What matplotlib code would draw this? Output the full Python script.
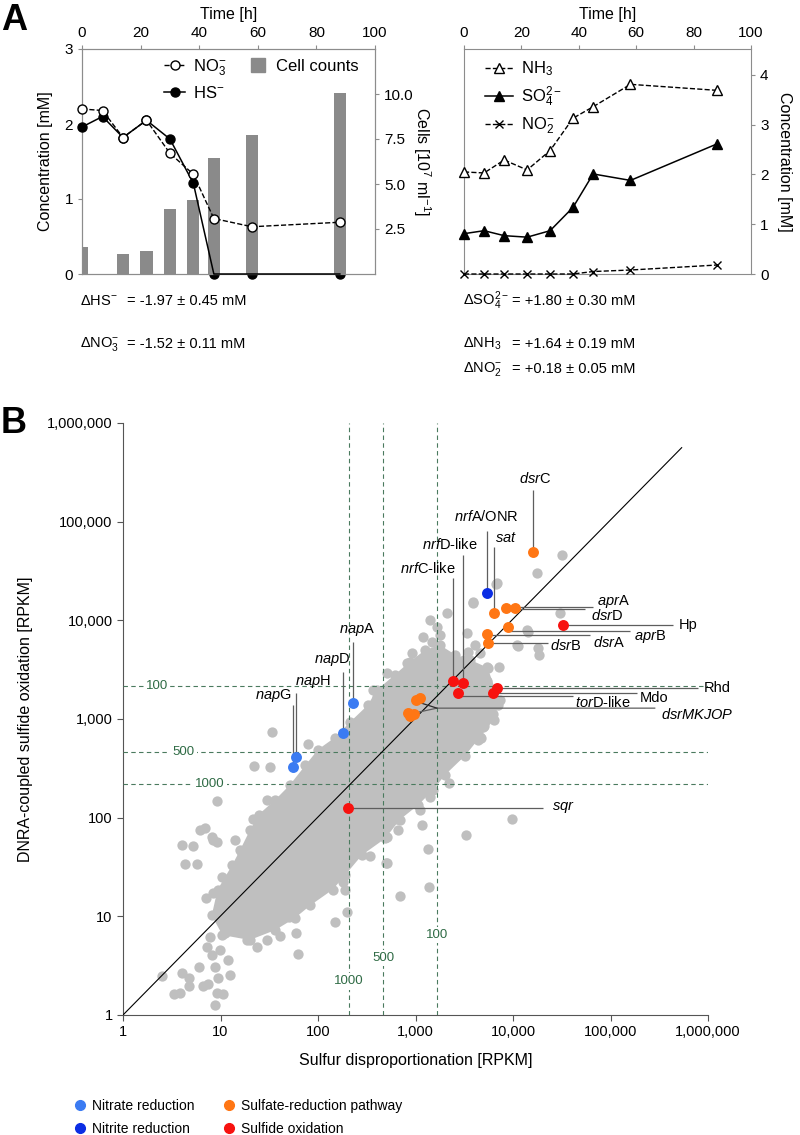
import numpy as np
import matplotlib
matplotlib.use('Agg')
import matplotlib.pyplot as plt
from matplotlib.lines import Line2D

plt.rcParams['font.family'] = ['Liberation Sans', 'DejaVu Sans']
plt.rcParams['mathtext.fontset'] = 'custom'
plt.rcParams['mathtext.rm'] = 'Liberation Sans'
plt.rcParams['mathtext.it'] = 'Liberation Sans:italic'
plt.rcParams['mathtext.bf'] = 'Liberation Sans:bold'
plt.rcParams['axes.unicode_minus'] = False

# ---- panel A data ----
time_h = [0, 7, 14, 22, 30, 38, 45, 58, 88]
no3 = [2.20, 2.18, 1.82, 2.05, 1.61, 1.33, 0.74, 0.63, 0.69]
hs = [1.96, 2.10, 1.82, 2.05, 1.80, 1.21, 0, 0, 0]
cell_time = [0, 14, 22, 30, 38, 45, 58, 88]
cells = [1.49, 1.12, 1.28, 3.63, 4.13, 6.42, 7.73, 10.04]

nh3 = [2.05, 2.03, 2.29, 2.09, 2.48, 3.13, 3.36, 3.81, 3.69]
so4 = [0.81, 0.87, 0.77, 0.74, 0.87, 1.34, 2.01, 1.88, 2.61]
no2 = [0, 0, 0, 0, 0, 0, 0.05, 0.08, 0.18]

delta_left = [(r'ΔHS$^{-}$', '= -1.97 ± 0.45 mM'),
              (r'ΔNO$_3^{-}$', '= -1.52 ± 0.11 mM')]
delta_right = [(r'ΔSO$_4^{2-}$', '= +1.80 ± 0.30 mM'),
               (r'ΔNH$_3$', '= +1.64 ± 0.19 mM'),
               (r'ΔNO$_2^{-}$', '= +0.18 ± 0.05 mM')]

# ---- panel B data (log10 RPKM: sulfur disproportionation, DNRA) ----
core_outline = [(1.02, 0.81), (0.91, 1.01), (0.97, 1.27), (1.12, 1.52), (1.20, 1.67),
                (1.30, 1.87), (1.39, 2.03), (1.56, 2.18), (1.71, 2.33), (1.87, 2.53),
                (2.00, 2.69), (2.17, 2.81), (2.33, 2.97), (2.51, 3.14), (2.60, 3.29),
                (2.79, 3.45), (2.94, 3.58), (3.10, 3.70), (3.25, 3.75), (3.41, 3.65),
                (3.56, 3.60), (3.74, 3.52), (3.82, 3.29), (3.85, 3.14), (3.80, 2.99),
                (3.64, 2.79), (3.51, 2.63), (3.30, 2.43), (3.18, 2.28), (3.03, 2.13),
                (2.84, 1.98), (2.69, 1.79), (2.45, 1.62), (2.28, 1.42), (2.15, 1.27),
                (1.92, 1.11), (1.76, 0.98), (1.56, 0.86), (1.30, 0.76)]

grey_points = [(0.40, 0.40), (0.52, 0.21), (0.58, 0.22), (0.61, 0.43), (0.68, 0.38),
               (0.68, 0.29), (0.78, 0.49), (0.82, 0.29), (0.87, 0.31), (0.94, 0.10),
               (0.97, 0.38), (0.96, 0.22), (1.03, 0.21), (1.10, 0.41), (1.08, 0.56),
               (0.94, 0.49), (0.91, 0.61), (0.86, 0.69), (0.89, 0.79), (0.99, 0.66),
               (1.05, 0.83), (0.85, 1.19), (0.92, 1.24), (0.64, 1.53), (0.76, 1.53),
               (1.02, 1.40), (1.17, 1.50), (1.18, 0.89), (1.27, 0.76), (1.37, 0.69),
               (1.48, 0.76), (1.61, 0.80), (1.70, 0.99), (1.79, 0.62), (1.77, 0.83),
               (2.17, 0.94), (2.30, 1.04), (2.28, 1.27), (2.71, 1.54), (2.84, 1.21),
               (3.14, 1.30), (1.53, 2.87), (1.34, 2.52), (1.51, 2.51), (1.90, 2.75),
               (0.96, 2.17), (0.84, 1.90), (0.72, 1.71), (0.61, 1.72), (0.91, 1.80),
               (0.96, 1.75), (1.15, 1.77), (1.22, 1.64), (1.33, 1.99), (1.48, 2.18),
               (3.43, 2.64), (3.56, 2.80), (3.67, 2.81), (3.70, 2.93), (3.79, 3.05),
               (3.59, 3.12), (3.34, 2.35), (3.15, 2.21), (3.07, 1.93), (2.81, 1.99),
               (2.82, 1.88), (2.71, 1.80), (2.53, 1.61), (2.70, 1.54), (3.13, 1.68),
               (3.52, 1.82), (3.99, 1.99), (2.26, 1.35), (2.43, 1.64), (0.79, 1.87),
               (0.92, 1.77), (1.27, 1.70), (1.20, 1.50), (2.71, 3.47), (2.61, 3.22),
               (3.32, 4.07), (3.15, 4.00), (3.22, 3.93), (3.08, 3.83), (3.17, 3.78),
               (3.25, 3.85), (3.59, 4.19), (3.84, 4.38), (3.53, 3.87), (3.61, 3.75),
               (3.54, 3.68), (3.66, 3.67), (3.73, 3.53), (3.86, 3.53), (3.50, 3.60),
               (4.04, 3.75), (4.14, 3.90), (4.27, 3.65), (4.26, 3.72), (4.48, 4.07),
               (3.73, 3.39), (3.59, 3.29), (3.66, 3.12), (3.56, 3.02), (3.69, 2.92),
               (3.66, 2.82), (3.38, 2.99), (3.32, 3.42), (3.25, 3.57), (3.08, 3.60),
               (2.91, 3.57), (2.96, 3.67), (2.56, 3.29), (4.50, 4.66), (4.25, 4.48),
               (3.83, 4.37), (3.59, 4.18), (4.15, 3.88), (4.05, 3.74), (3.05, 2.08),
               (3.87, 3.19), (3.73, 3.06)]

nitrate_pts = [(2.36, 3.16), (2.26, 2.86), (1.77, 2.61), (1.74, 2.51)]
nitrite_pts = [(3.73, 4.28)]
sulfate_pts = [(4.21, 4.69), (3.81, 4.07), (4.02, 4.13), (3.93, 4.13), (3.95, 3.93),
               (3.73, 3.86), (3.74, 3.77), (3.05, 3.21), (3.00, 3.19), (2.92, 3.06),
               (2.98, 3.05), (2.94, 3.03)]
sulfide_pts = [(4.51, 3.95), (3.38, 3.39), (3.49, 3.36), (3.44, 3.26), (3.84, 3.31),
               (3.79, 3.26), (2.31, 2.10)]

vert_thresh = [208, 465, 1660]
vert_labels = ['1000', '500', '100']
horiz_thresh = [2150, 460, 218]
horiz_labels = ['100', '500', '1000']

grey = '#bfbfbf'
c_nitrate = '#3b7bf2'
c_nitrite = '#0b2de4'
c_sulfate = '#ff7614'
c_sulfide = '#f7120f'
spine_a = '#8c8c8c'
green = '#4a7a5e'
green_txt = '#2f6b45'

W, H = 800, 1135
fig = plt.figure(figsize=(8, 11.35), dpi=100)


def fx(px):
    return px / W


def fy(py):
    return 1 - py / H


# ================= panel A left =================
axL = fig.add_axes([fx(82), fy(274), 293 / W, 225 / H])
axL2 = axL.twinx()
axL2.bar(cell_time, cells, width=4.2, color='#8a8a8a', zorder=2)
hs_zero = [t for t, v in zip(time_h, hs) if v == 0]
axL2.plot(hs_zero, [0] * len(hs_zero), 'o', color='black', ms=6.5, zorder=1, clip_on=False)
axL2.set_ylim(0, 12.5)
axL2.set_yticks([2.5, 5.0, 7.5, 10.0])
axL2.set_yticklabels(['2.5', '5.0', '7.5', '10.0'])
axL2.set_ylabel(r'Cells [10$^7$ ml$^{-1}$]', rotation=270, labelpad=14, fontsize=11.5)

axL.set_zorder(axL2.get_zorder() + 1)
axL.patch.set_visible(False)
hs_mark = [i for i, v in enumerate(hs) if v != 0]
axL.plot(time_h, hs, '-', color='black', lw=1.1, marker='o', ms=6.5,
         markevery=hs_mark, clip_on=False, zorder=3)
axL.plot(time_h, no3, '--', color='black', lw=1, marker='o', ms=6.5, mfc='white',
         mec='black', clip_on=False, zorder=4)
axL.set_xlim(0, 100)
axL.set_ylim(0, 3)
axL.set_yticks([0, 1, 2, 3])
axL.set_xticks(range(0, 101, 20))
axL.xaxis.tick_top()
axL.xaxis.set_label_position('top')
axL.set_xlabel('Time [h]', fontsize=11.5, labelpad=5)
axL.set_ylabel('Concentration [mM]', fontsize=11.5, labelpad=8)

h_no3 = Line2D([], [], ls='--', color='black', lw=1, marker='o', ms=6.5, mfc='white')
h_hs = Line2D([], [], ls='-', color='black', lw=1.1, marker='o', ms=6.5)
h_cell = Line2D([], [], ls='', marker='s', color='#8a8a8a', ms=10)
axL.legend([h_no3, h_hs, h_cell], [r'NO$_3^{-}$', r'HS$^{-}$', 'Cell counts'], ncol=2,
           loc='upper left', bbox_to_anchor=(0.23, 1.03), frameon=False, fontsize=12,
           handlelength=1.25, handletextpad=0.45, columnspacing=1.3, labelspacing=0.45)

for a in (axL, axL2):
    for s in a.spines.values():
        s.set_color(spine_a)
    a.tick_params(colors=spine_a, labelcolor='black', labelsize=11, length=3)

# ================= panel A right =================
axR = fig.add_axes([fx(464), fy(274), 287 / W, 225 / H])
axR.plot(time_h, nh3, '--', color='black', lw=1, marker='^', ms=7, mfc='white',
         mec='black', clip_on=False, zorder=3)
axR.plot(time_h, so4, '-', color='black', lw=1.1, marker='^', ms=7, clip_on=False, zorder=3)
axR.plot(time_h, no2, '--', color='black', lw=1, marker='x', ms=5.5, mew=1,
         clip_on=False, zorder=3)
axR.set_xlim(0, 100)
axR.set_ylim(0, 4.52)
axR.set_yticks([0, 1, 2, 3, 4])
axR.set_xticks(range(0, 101, 20))
axR.xaxis.tick_top()
axR.xaxis.set_label_position('top')
axR.yaxis.tick_right()
axR.yaxis.set_label_position('right')
axR.set_xlabel('Time [h]', fontsize=11.5, labelpad=5)
axR.set_ylabel('Concentration [mM]', rotation=270, labelpad=17, fontsize=11.5)
for s in axR.spines.values():
    s.set_color(spine_a)
axR.tick_params(colors=spine_a, labelcolor='black', labelsize=11, length=3)

h_nh3 = Line2D([], [], ls='--', color='black', lw=1, marker='^', ms=7, mfc='white')
h_so4 = Line2D([], [], ls='-', color='black', lw=1.1, marker='^', ms=7)
h_no2 = Line2D([], [], ls='--', color='black', lw=1, marker='x', ms=5.5)
axR.legend([h_nh3, h_so4, h_no2], [r'NH$_3$', r'SO$_4^{2-}$', r'NO$_2^{-}$'],
           loc='upper left', bbox_to_anchor=(0.02, 1.02), frameon=False, fontsize=12,
           handlelength=1.7, handletextpad=0.5, labelspacing=0.4)

# delta texts
for (lab, val), py in zip(delta_left, [301, 344]):
    fig.text(fx(80), fy(py), lab, fontsize=10.5, va='center')
    fig.text(fx(127), fy(py), val, fontsize=10.5, va='center')
for (lab, val), py in zip(delta_right, [301, 344, 369]):
    fig.text(fx(463), fy(py), lab, fontsize=10.5, va='center')
    fig.text(fx(512), fy(py), val, fontsize=10.5, va='center')

fig.text(fx(14), fy(21), 'A', fontsize=26, fontweight='bold', ha='center', va='center')
fig.text(fx(14), fy(424), 'B', fontsize=26, fontweight='bold', ha='center', va='center')

# ================= panel B =================
axB = fig.add_axes([fx(123), fy(1015), 585 / W, 592 / H])
axB.set_xscale('log')
axB.set_yscale('log')
axB.set_xlim(1, 1e6)
axB.set_ylim(1, 1e6)

core = np.array(core_outline)
axB.fill(10 ** core[:, 0], 10 ** core[:, 1], color=grey, lw=0, zorder=1)
axB.scatter(10 ** core[:, 0], 10 ** core[:, 1], s=55, color=grey, lw=0, zorder=2)
gp = np.array(grey_points)
axB.scatter(10 ** gp[:, 0], 10 ** gp[:, 1], s=55, color=grey, lw=0, zorder=2)

dash = (0, (4, 3))
for v, lab, ly in zip(vert_thresh, vert_labels, [0.34, 0.58, 0.81]):
    axB.axvline(v, color=green, lw=0.8, ls=dash, zorder=3)
    axB.text(v, 10 ** ly, lab, color=green_txt, fontsize=9.5, ha='center', va='center',
             zorder=3.5, bbox=dict(fc='white', ec='none', pad=1.5))
for v, lab, lx in zip(horiz_thresh, horiz_labels, [0.35, 0.62, 0.89]):
    axB.axhline(v, color=green, lw=0.8, ls=dash, zorder=3)
    axB.text(10 ** lx, v, lab, color=green_txt, fontsize=9.5, ha='center', va='center',
             zorder=3.5, bbox=dict(fc='white', ec='none', pad=1.5))

axB.plot([1, 10 ** 5.73], [1, 10 ** 5.75], color='black', lw=0.8, zorder=4)

# leader lines and labels (log10 coordinates)
notes = [
    (r'$\mathit{nap}$A', [(2.36, 3.16), (2.36, 3.78)], (2.40, 3.82), 'center', 'bottom'),
    (r'$\mathit{nap}$D', [(2.26, 2.86), (2.26, 3.48)], (2.14, 3.52), 'center', 'bottom'),
    (r'$\mathit{nap}$H', [(1.77, 2.61), (1.77, 3.26)], (1.76, 3.29), 'left', 'bottom'),
    (r'$\mathit{nap}$G', [(1.74, 2.51), (1.74, 3.14)], (1.73, 3.15), 'right', 'bottom'),
    (r'$\mathit{nrf}$C-like', [(3.38, 3.39), (3.38, 4.43)], (3.41, 4.45), 'right', 'bottom'),
    (r'$\mathit{nrf}$D-like', [(3.49, 3.36), (3.49, 4.66)], (3.35, 4.69), 'center', 'bottom'),
    (r'$\mathit{nrf}$A/ONR', [(3.73, 4.28), (3.73, 4.91)], (3.73, 4.98), 'center', 'bottom'),
    (r'$\mathit{sat}$', [(3.81, 4.07), (3.81, 4.74)], (3.82, 4.76), 'left', 'bottom'),
    (r'$\mathit{dsr}$C', [(4.21, 4.69), (4.21, 5.32)], (4.23, 5.36), 'center', 'bottom'),
    (r'$\mathit{apr}$A', [(4.02, 4.14), (4.82, 4.14)], (4.86, 4.19), 'left', 'center'),
    (r'$\mathit{dsr}$D', [(3.93, 4.11), (4.74, 4.11)], (4.80, 4.05), 'left', 'center'),
    ('Hp', [(4.51, 3.95), (5.64, 3.95)], (5.70, 3.95), 'left', 'center'),
    (r'$\mathit{apr}$B', [(3.95, 3.89), (5.20, 3.89)], (5.24, 3.84), 'left', 'center'),
    (r'$\mathit{dsr}$A', [(3.73, 3.85), (4.79, 3.85)], (4.82, 3.78), 'left', 'center'),
    (r'$\mathit{dsr}$B', [(3.74, 3.77), (4.36, 3.77)], (4.38, 3.75), 'left', 'center'),
    ('Rhd', [(3.84, 3.31), (5.90, 3.31)], (5.96, 3.31), 'left', 'center'),
    ('Mdo', [(3.79, 3.26), (5.27, 3.26)], (5.30, 3.21), 'left', 'center'),
    (r'$\mathit{tor}$D-like', [(3.44, 3.23), (4.62, 3.23)], (4.64, 3.17), 'left', 'center'),
    (r'$\mathit{dsrMKJOP}$', [(2.94, 3.05), (3.22, 3.11), (5.46, 3.11)], (5.52, 3.05), 'left', 'center'),
    (r'$\mathit{sqr}$', [(2.31, 2.10), (4.31, 2.10)], (4.40, 2.11), 'left', 'center'),
]
for lab, path, (tx, ty), ha, va in notes:
    p = np.array(path)
    axB.plot(10 ** p[:, 0], 10 ** p[:, 1], color='#5e5e5e', lw=0.9, zorder=4.5,
             solid_capstyle='butt', clip_on=False)
    axB.text(10 ** tx, 10 ** ty, lab, fontsize=10.5, ha=ha, va=va, zorder=6)
axB.plot([10 ** 3.00, 10 ** 3.22], [10 ** 3.18, 10 ** 3.11], color='#2a2a2a', lw=0.9, zorder=4.5)

for pts, c in [(nitrate_pts, c_nitrate), (nitrite_pts, c_nitrite),
               (sulfate_pts, c_sulfate), (sulfide_pts, c_sulfide)]:
    a = np.array(pts)
    axB.scatter(10 ** a[:, 0], 10 ** a[:, 1], s=62, color=c, lw=0, zorder=5)

ticks = [10 ** k for k in range(7)]
axB.set_xticks(ticks)
axB.set_yticks(ticks)
axB.set_xticklabels([f'{t:,}' for t in ticks])
axB.set_yticklabels([f'{t:,}' for t in ticks])
axB.minorticks_off()
axB.spines['top'].set_visible(False)
axB.spines['right'].set_visible(False)
for s in ('left', 'bottom'):
    axB.spines[s].set_color('#555555')
axB.tick_params(colors='#555555', labelcolor='black', labelsize=10.5, length=4)
axB.set_xlabel('Sulfur disproportionation [RPKM]', fontsize=11.5, labelpad=10)
axB.set_ylabel('DNRA-coupled sulfide oxidation [RPKM]', fontsize=11.5, labelpad=10)

# bottom legend
leg_h = [Line2D([], [], ls='', marker='o', ms=7, color=c)
         for c in (c_nitrate, c_nitrite, c_sulfate, c_sulfide)]
fig.legend(leg_h, ['Nitrate reduction', 'Nitrite reduction', 'Sulfate-reduction pathway',
                   'Sulfide oxidation'], ncol=2, loc='center left',
           bbox_to_anchor=(fx(73), fy(1117.5)), frameon=False, fontsize=10,
           handlelength=1.0, handletextpad=0.35, columnspacing=2.0, labelspacing=0.6,
           borderaxespad=0, borderpad=0)

fig.savefig('out.png', dpi=100)
